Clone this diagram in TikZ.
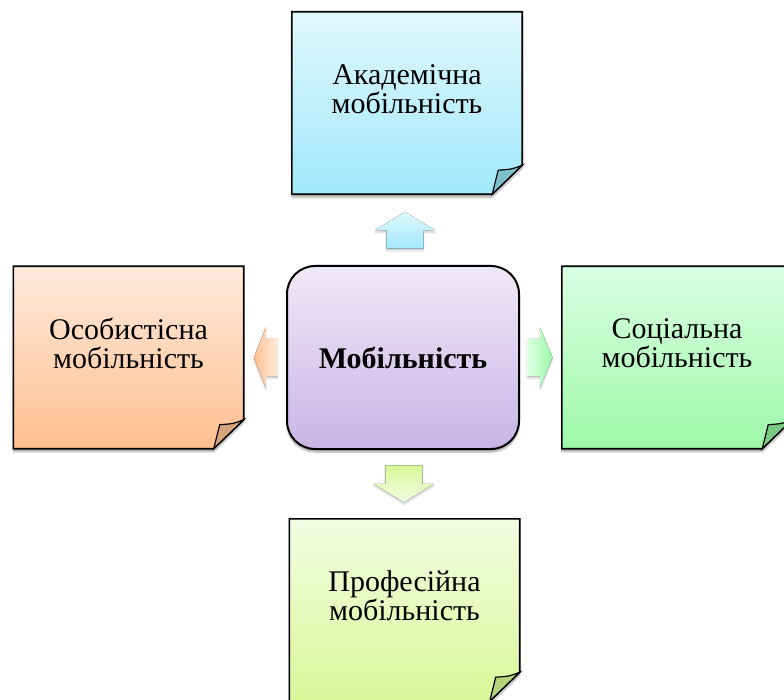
\documentclass[tikz,border=0pt]{standalone}
\usepackage{fontspec}
\setmainfont{Liberation Serif}
\usetikzlibrary{calc,shadows.blur}

\definecolor{acadtop}{HTML}{E2F8FD}
\definecolor{acadbot}{HTML}{A0E8FA}
\definecolor{acadfold}{HTML}{7EBFCE}
\definecolor{osobtop}{HTML}{FFEADC}
\definecolor{osobbot}{HTML}{FFBF90}
\definecolor{osobfold}{HTML}{D6A47A}
\definecolor{soctop}{HTML}{DAFFE2}
\definecolor{socbot}{HTML}{9EF8A8}
\definecolor{socfold}{HTML}{78C882}
\definecolor{proftop}{HTML}{F4FCE2}
\definecolor{profbot}{HTML}{D8F898}
\definecolor{proffold}{HTML}{B6D27A}
\definecolor{mobtop}{HTML}{EEE9F7}
\definecolor{mobbot}{HTML}{C8B5E5}

\begin{document}
\begin{tikzpicture}[x=1pt, y=1pt,
  note/.style={minimum width=230pt, minimum height=182pt, inner sep=0pt},
  notetext/.style={align=center, inner sep=0pt, font=\fontsize{30}{29}\selectfont},
  hub/.style={draw, line width=2pt, rounded corners=28pt, minimum width=232pt, minimum height=183pt,
    top color=mobtop, bottom color=mobbot, font=\fontsize{30}{29}\selectfont\bfseries,
    blur shadow={shadow xshift=0pt, shadow yshift=-3pt, shadow blur steps=6, shadow opacity=35}}]
\useasboundingbox (0,0) rectangle (784,-700);

\node[note] (acad) at (407,-103) {};
\node[note] (osob) at (128.5,-357.5) {};
\node[note] (soc)  at (677,-357.5) {};
\node[note] (prof) at (404.5,-610) {};
\node[hub]  (mob)  at (403,-357.5) {Мобільність};

% folded notes
\foreach \n/\tc/\bc/\fc in {acad/acadtop/acadbot/acadfold, osob/osobtop/osobbot/osobfold,
                            soc/soctop/socbot/socfold, prof/proftop/profbot/proffold}{
  \draw[line width=1.6pt, top color=\tc, bottom color=\bc,
        blur shadow={shadow xshift=0pt, shadow yshift=-3pt, shadow blur steps=6, shadow opacity=35}]
    (\n.north west) -- (\n.north east) -- ([yshift=29pt]\n.south east)
    -- ([xshift=-30pt]\n.south east) -- (\n.south west) -- cycle;
  \draw[line width=1.2pt, fill=\fc] ([yshift=29pt]\n.south east)
    .. controls ([xshift=-10pt, yshift=25pt]\n.south east) .. ([xshift=-24pt, yshift=24pt]\n.south east)
    -- ([xshift=-30pt]\n.south east) -- cycle;
}

\node[notetext] (acadtxt) at ([yshift=-77pt]acad.north) {Академічна\\мобільність};
\node[notetext] (osobtxt) at ([yshift=-77pt]osob.north) {Особистісна\\мобільність};
\node[notetext] (soctxt)  at ([yshift=-77pt]soc.north)  {Соціальна\\мобільність};
\node[notetext] (proftxt) at ([yshift=-77pt]prof.north) {Професійна\\мобільність};

% block arrows
\foreach \to/\r/\h/\tc/\bc in {acad/0/18.5/acadtop/acadbot, osob/90/12/osobtop/osobbot,
                               soc/-90/12.5/soctop/socbot, prof/180/18.5/proftop/profbot}
  \fill[top color=\tc, bottom color=\bc, shading angle=-\r, shift={($(mob)!0.5!(\to)$)}, rotate=\r,
        blur shadow={shadow xshift=0pt, shadow yshift=-2pt, shadow blur steps=5, shadow opacity=20}]
    (0,\h) -- (30,0) -- (18.5,0) -- (18.5,-\h) -- (-18.5,-\h) -- (-18.5,0) -- (-30,0) -- cycle;
\end{tikzpicture}
\end{document}
